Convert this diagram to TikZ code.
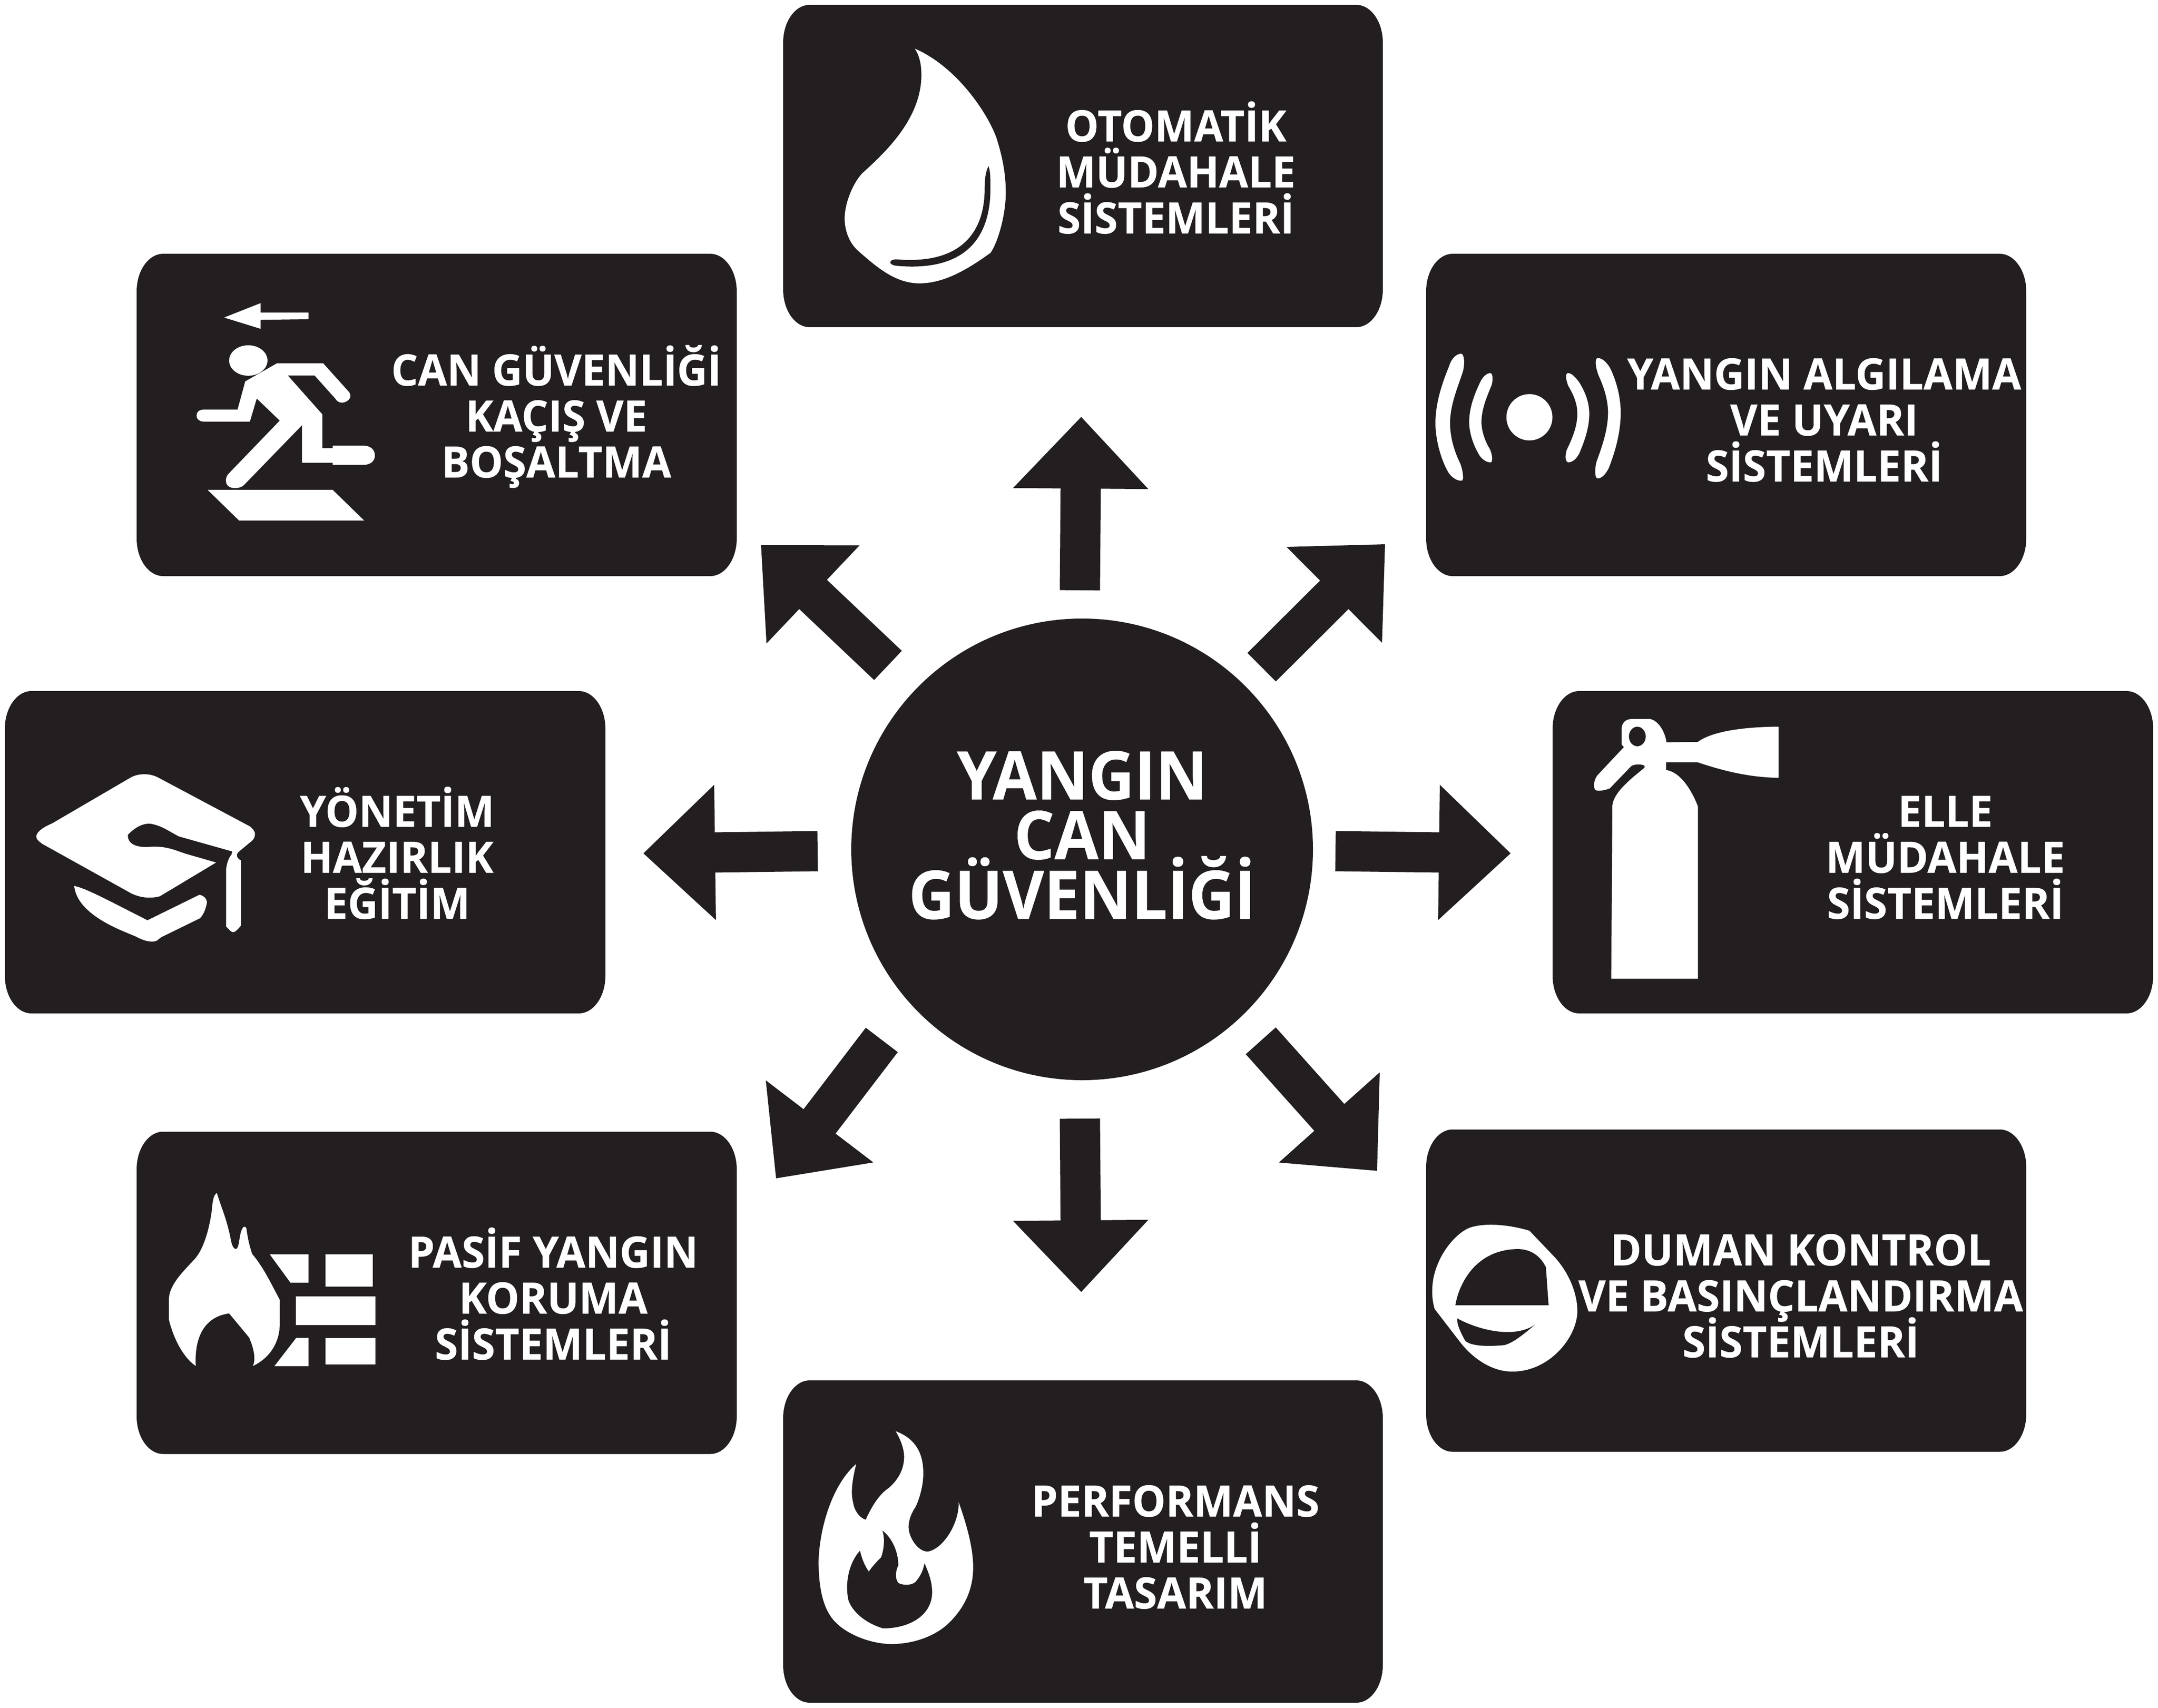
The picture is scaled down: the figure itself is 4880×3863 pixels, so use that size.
\documentclass[tikz,border=0pt]{standalone}
\usepackage{fontspec}
\usetikzlibrary{calc}
\newfontfamily\labfam{Open Sans}[FakeStretch=0.97,BoldFeatures={FakeBold=0.4}]
\newfontfamily\hubfam{Open Sans}[FakeStretch=0.95,BoldFeatures={FakeBold=0.4}]
\definecolor{ink}{HTML}{231F20}
\newcommand\tightlines{\lineskiplimit=-100pt\relax}
\tikzset{
  boxanchor/.style 2 args={rectangle,inner sep=0pt,minimum width=#1*0.2pt,minimum height=#2*0.2pt},
  labeltext/.style={text=white,align=center,inner sep=0pt,font=\labfam\fontsize{19.6}{20.8}\selectfont\bfseries\tightlines},
  hubnode/.style={circle,fill=ink,text=white,align=center,inner sep=0pt,minimum size=208.8pt,font=\hubfam\fontsize{30.3}{27}\selectfont\bfseries\tightlines},
  cropA/.style={x=0.17346pt,y=-0.09695pt},
  cropB/.style={x=0.17346pt,y=-0.09438pt},
  icon/.style={fill=white},
  iconcut/.style={fill=ink}
}
\newcommand\threelines[3]{\rule{0pt}{22pt}#1\\#2\\\rule[-6pt]{0pt}{6pt}#3}
\newcommand\roundbox[1]{%
  \fill[ink] ($(#1.north west)+(60,0)$) -- ($(#1.north east)+(-60,0)$)
    .. controls ($(#1.north east)+(-27,0)$) and ($(#1.north east)+(0,38)$) .. ($(#1.north east)+(0,85)$)
    -- ($(#1.south east)+(0,-85)$)
    .. controls ($(#1.south east)+(0,-38)$) and ($(#1.south east)+(-27,0)$) .. ($(#1.south east)+(-60,0)$)
    -- ($(#1.south west)+(60,0)$)
    .. controls ($(#1.south west)+(27,0)$) and ($(#1.south west)+(0,-38)$) .. ($(#1.south west)+(0,-85)$)
    -- ($(#1.north west)+(0,85)$)
    .. controls ($(#1.north west)+(0,38)$) and ($(#1.north west)+(27,0)$) .. ($(#1.north west)+(60,0)$) -- cycle;}
% base coordinate, tip coordinate
\newcommand\blockarrow[2]{%
  \coordinate (hb) at ($(#2)!162*0.2pt!(#1)$);
  \fill[ink] ($(#1)!45.5*0.2pt!90:(#2)$) -- ($(hb)!45.5*0.2pt!-90:(#1)$) -- ($(hb)!153*0.2pt!-90:(#1)$)
    -- (#2) -- ($(hb)!153*0.2pt!90:(#1)$) -- ($(hb)!45.5*0.2pt!90:(#1)$) -- ($(#1)!45.5*0.2pt!-90:(#2)$) -- cycle;}
\begin{document}
\begin{tikzpicture}[x=0.2pt,y=-0.2pt]
\useasboundingbox (0,0) rectangle (4880,3863);

% anchors of the eight panels
\node[boxanchor={1354}{727}] (top) at (2449,375.5) {};
\node[boxanchor={1355}{727}] (can) at (987.5,938.5) {};
\node[boxanchor={1355}{727}] (alg) at (3903.5,938.5) {};
\node[boxanchor={1356}{727}] (yon) at (690,1927.5) {};
\node[boxanchor={1356}{727}] (elle) at (4190,1927.5) {};
\node[boxanchor={1355}{727}] (pas) at (987.5,2924) {};
\node[boxanchor={1355}{727}] (dum) at (3903.5,2919) {};
\node[boxanchor={1354}{727}] (per) at (2449,3486.5) {};
\foreach \b in {top,can,alg,yon,elle,pas,dum,per}{\roundbox{\b}}

% hub
\node[hubnode] (hub) at (2447,1921) {\rule{0pt}{34pt}YANGIN\\CAN\\\rule[-25.2pt]{0pt}{25.2pt}GÜVENLİĞİ};

% arrows
\coordinate (bN) at (2442,1335);  \coordinate (tN) at (2445,943);
\coordinate (bS) at (2442,2530);  \coordinate (tS) at (2445,2922);
\coordinate (bW) at (1849,1925);  \coordinate (tW) at (1455,1930);
\coordinate (bE) at (3020,1925);  \coordinate (tE) at (3416,1930);
\coordinate (bNW) at (2008,1505); \coordinate (tNW) at (1721,1233);
\coordinate (bNE) at (2853,1509); \coordinate (tNE) at (3132,1231);
\coordinate (bSE) at (2851,2354); \coordinate (tSE) at (3114,2648);
\coordinate (bSW) at (1994,2352); \coordinate (tSW) at (1755,2665);
\foreach \d in {N,S,W,E,NW,NE,SE,SW}{\blockarrow{b\d}{t\d}}

% labels
\node[labeltext] (topT) at (2659,384) {\threelines{OTOMATİK}{MÜDAHALE}{SİSTEMLERİ}};
\node[labeltext] (canT) at (1258,936) {\threelines{CAN GÜVENLİĞİ}{KAÇIŞ VE}{BOŞALTMA}};
\node[labeltext] (algT) at (4125,945) {\threelines{YANGIN ALGILAMA}{VE UYARI}{SİSTEMLERİ}};
\node[labeltext] (yonT) at (898,1934) {\threelines{YÖNETİM}{HAZIRLIK}{EĞİTİM}};
\node[labeltext] (elleT) at (4399,1934) {\threelines{ELLE}{MÜDAHALE}{SİSTEMLERİ}};
\node[labeltext] (pasT) at (1251,2931) {\threelines{PASİF YANGIN}{KORUMA}{SİSTEMLERİ}};
\node[labeltext] (dumT) at (4072,2926) {\threelines{DUMAN KONTROL}{VE BASINÇLANDIRMA}{SİSTEMLERİ}};
\node[labeltext] (perT) at (2658,3494) {\threelines{PERFORMANS}{TEMELLİ}{TASARIM}};

% drop
\begin{scope}[shift={(1780,0)},cropA]
\fill[icon] (333,227) .. controls (440,310) and (520,520) .. (545,640) .. controls (565,750) and (570,830) .. (570,900) .. controls (570,1000) and (550,1130) .. (530,1180) .. controls (490,1230) and (420,1322) .. (345,1322) .. controls (280,1322) and (230,1240) .. (185,1170) .. controls (160,1130) and (150,1070) .. (150,1020) .. controls (150,950) and (170,860) .. (195,810) .. controls (250,720) and (350,560) .. (350,350) .. controls (350,300) and (345,260) .. (333,227) -- cycle;
\fill[iconcut] (525,775) .. controls (518,800) and (515,830) .. (515,880) .. controls (515,1090) and (450,1235) .. (285,1210) .. controls (265,1210) and (262,1235) .. (285,1240) .. controls (470,1270) and (530,1100) .. (530,880) .. controls (530,830) and (530,800) .. (525,775) -- cycle;
\end{scope}

% runner
\begin{scope}[shift={(310,570)},cropB]
\fill[icon] (227,314) -- (322,245) -- (322,290) -- (447,290) -- (447,322) -- (322,325) -- (322,368) -- cycle;
\fill[icon] (290,520) circle[x radius=50,y radius=73];
\fill[icon] (365,533) -- (485,533) -- (552,670) .. controls (565,700) and (545,722) .. (535,722) .. controls (525,722) and (520,712) .. (518,705) -- (463,592) -- (393,592) -- (483,778) -- (483,940) -- (510,940) -- (510,928) -- (590,928) .. controls (610,928) and (620,950) .. (620,975) .. controls (620,1000) and (610,1020) .. (590,1020) -- (510,1020) -- (510,1010) -- (430,1010) -- (430,830) -- (278,1118) .. controls (268,1135) and (240,1140) .. (233,1110) .. controls (230,1090) and (232,1075) .. (240,1060) -- (372,808) -- (312,702) -- (294,813) -- (175,813) .. controls (160,813) and (155,795) .. (155,785) .. controls (155,770) and (160,755) .. (175,755) -- (262,755) -- (282,620) -- (325,575) -- cycle;
\fill[icon] (184,1140) -- (510,1140) -- (592,1287) -- (266,1287) -- cycle;
\end{scope}

% signal
\begin{scope}[shift={(3220,570)},cropB]
\fill[icon] (275,792) circle[x radius=60,y radius=111];
\fill[icon] (97,487) .. controls (80,490) and (70,520) .. (65,550) .. controls (45,640) and (30,730) .. (30,820) .. controls (30,900) and (45,1000) .. (65,1060) .. controls (75,1085) and (90,1100) .. (100,1095) .. controls (105,1085) and (100,1040) .. (95,1015) .. controls (80,960) and (68,890) .. (68,820) .. controls (68,730) and (90,640) .. (102,570) .. controls (107,530) and (105,490) .. (97,487) -- cycle;
\fill[icon] (172,580) .. controls (158,585) and (150,610) .. (145,630) .. controls (130,690) and (118,750) .. (118,815) .. controls (118,870) and (130,930) .. (145,975) .. controls (152,995) and (165,1010) .. (175,1008) .. controls (180,1000) and (178,970) .. (172,945) .. controls (160,910) and (150,860) .. (150,815) .. controls (150,750) and (165,690) .. (177,635) .. controls (180,610) and (180,580) .. (172,580) -- cycle;
\fill[icon] (375,580) .. controls (368,585) and (370,610) .. (376,640) .. controls (392,690) and (400,730) .. (400,775) .. controls (400,840) and (385,900) .. (372,950) .. controls (368,975) and (368,1005) .. (376,1008) .. controls (388,1008) and (398,990) .. (405,965) .. controls (420,900) and (431,840) .. (431,775) .. controls (431,720) and (420,670) .. (405,625) .. controls (395,600) and (385,580) .. (375,580) -- cycle;
\fill[icon] (453,508) .. controls (445,510) and (447,550) .. (455,590) .. controls (470,650) and (480,710) .. (480,770) .. controls (480,850) and (465,930) .. (450,1005) .. controls (445,1040) and (445,1085) .. (453,1085) .. controls (465,1085) and (475,1060) .. (482,1035) .. controls (500,950) and (513,860) .. (513,770) .. controls (513,690) and (500,610) .. (485,555) .. controls (477,530) and (465,508) .. (453,508) -- cycle;
\end{scope}

% graduation cap
\begin{scope}[shift={(10,1560)},cropB]
\fill[icon] (365,405) .. controls (380,405) and (392,412) .. (402,422) -- (640,655) .. controls (650,670) and (655,685) .. (653,698) .. controls (652,712) and (648,722) .. (640,732) -- (610,778) .. controls (603,790) and (606,810) .. (617,818) -- (617,1130) .. controls (610,1145) and (602,1162) .. (596,1162) .. controls (590,1162) and (585,1145) .. (578,1135) -- (578,860) .. controls (580,830) and (585,805) .. (592,790) -- (594,775) -- (455,703) .. controls (430,680) and (410,650) .. (380,642) .. controls (360,640) and (340,660) .. (322,695) .. controls (320,740) and (345,760) .. (385,752) .. controls (430,750) and (450,775) .. (480,790) -- (552,828) -- (405,990) .. controls (375,1005) and (345,992) .. (325,970) -- (100,740) .. controls (88,725) and (83,715) .. (83,702) .. controls (85,680) and (100,660) .. (125,640) -- (330,420) .. controls (340,410) and (352,405) .. (365,405) -- cycle;
\fill[icon] (182,940) .. controls (215,955) and (250,990) .. (373,1105) -- (508,983) .. controls (518,985) and (528,1000) .. (528,1020) .. controls (525,1050) and (520,1075) .. (510,1095) -- (410,1185) .. controls (400,1195) and (400,1207) .. (385,1207) .. controls (370,1207) and (355,1195) .. (345,1185) .. controls (325,1165) and (190,1090) .. (182,940) -- cycle;
\end{scope}

% extinguisher
\begin{scope}[shift={(3510,1560)},cropB]
\fill[icon,even odd rule] (154,1385) -- (157,555) .. controls (160,490) and (210,420) .. (240,375) .. controls (245,362) and (235,358) .. (225,358) .. controls (215,358) and (208,362) .. (205,368) -- (150,473) .. controls (135,483) and (120,488) .. (112,480) .. controls (106,460) and (110,430) .. (118,410) -- (187,275) -- (181,262) -- (181,190) .. controls (181,160) and (190,140) .. (210,140) -- (255,140) .. controls (280,150) and (295,210) .. (298,252) -- (380,250) .. controls (420,195) and (510,178) .. (590,177) -- (590,422) .. controls (510,420) and (440,385) .. (380,348) -- (297,348) -- (297,385) .. controls (340,395) and (370,510) .. (380,560) -- (380,1385) -- cycle
 (222,224) circle[x radius=22,y radius=47];
\end{scope}

% flame and bricks
\begin{scope}[shift={(310,2560)},cropB]
\fill[icon] (208,292) .. controls (195,310) and (197,360) .. (193,400) .. controls (185,490) and (170,570) .. (150,610) .. controls (120,670) and (85,730) .. (83,800) -- (83,900) .. controls (95,990) and (120,1080) .. (153,1122) .. controls (150,1030) and (160,890) .. (240,870) -- (292,985) .. controls (305,1040) and (310,1090) .. (302,1122) .. controls (350,1080) and (372,1000) .. (372,920) -- (372,805) .. controls (350,730) and (330,650) .. (300,585) .. controls (290,530) and (287,490) .. (285,462) .. controls (283,452) and (277,452) .. (275,462) .. controls (265,490) and (268,560) .. (257,562) .. controls (245,555) and (245,510) .. (240,480) .. controls (230,400) and (215,340) .. (208,292) -- cycle;
\fill[icon] (346,587) -- (447,587) -- (447,723) -- (400,723) -- cycle;
\fill[icon] (491,587) rectangle (615,741);
\fill[icon] (414,788) rectangle (621,927);
\fill[icon] (415,987) -- (447,987) -- (447,1123) -- (358,1123) -- cycle;
\fill[icon] (491,987) rectangle (621,1114);
\end{scope}

% smoke mask
\begin{scope}[shift={(3220,2550)},cropB]
\fill[icon] (275,495) -- (340,620) .. controls (380,700) and (400,800) .. (400,880) .. controls (400,1000) and (330,1170) .. (230,1170) .. controls (170,1170) and (120,1090) .. (95,1030) -- (28,870) .. controls (20,820) and (20,770) .. (25,720) .. controls (40,590) and (90,500) .. (120,480) .. controls (170,450) and (240,475) .. (275,495) -- cycle;
\fill[iconcut] (82,852) -- (325,852) -- (318,670) .. controls (305,620) and (280,580) .. (240,583) .. controls (130,590) and (90,760) .. (82,852) -- cycle;
\fill[iconcut] (87,915) .. controls (130,960) and (230,1020) .. (290,945) .. controls (260,990) and (235,1030) .. (210,1043) .. controls (170,1050) and (120,1050) .. (107,1020) .. controls (95,980) and (85,940) .. (87,915) -- cycle;
\end{scope}

% fire
\begin{scope}[shift={(1780,3120)},cropB]
\fill[icon,even odd rule] (283,248) .. controls (345,290) and (355,380) .. (355,450) .. controls (355,510) and (345,570) .. (335,610) .. controls (320,650) and (315,690) .. (317,720) .. controls (320,760) and (340,825) .. (367,825) .. controls (410,810) and (450,680) .. (447,587) .. controls (465,680) and (485,800) .. (485,900) .. controls (485,1000) and (465,1090) .. (420,1170) .. controls (385,1230) and (330,1268) .. (270,1268) .. controls (210,1265) and (155,1215) .. (130,1170) .. controls (100,1120) and (82,1030) .. (82,870) .. controls (85,700) and (120,500) .. (180,405) .. controls (170,480) and (165,540) .. (172,590) .. controls (175,630) and (190,665) .. (205,672) .. controls (220,610) and (240,550) .. (265,520) .. controls (290,480) and (305,430) .. (305,370) .. controls (305,330) and (295,285) .. (283,248) -- cycle
 (248,723) .. controls (275,760) and (290,830) .. (290,890) .. controls (283,920) and (280,950) .. (290,975) .. controls (305,990) and (330,985) .. (337,965) .. controls (350,935) and (355,910) .. (358,880) .. controls (370,930) and (378,970) .. (378,1020) .. controls (378,1130) and (320,1193) .. (250,1193) .. controls (200,1165) and (170,1110) .. (160,1060) .. controls (150,980) and (160,880) .. (190,820) .. controls (195,860) and (203,895) .. (213,920) .. controls (222,895) and (235,870) .. (245,852) .. controls (253,810) and (255,760) .. (248,723) -- cycle;
\end{scope}
\end{tikzpicture}
\end{document}
